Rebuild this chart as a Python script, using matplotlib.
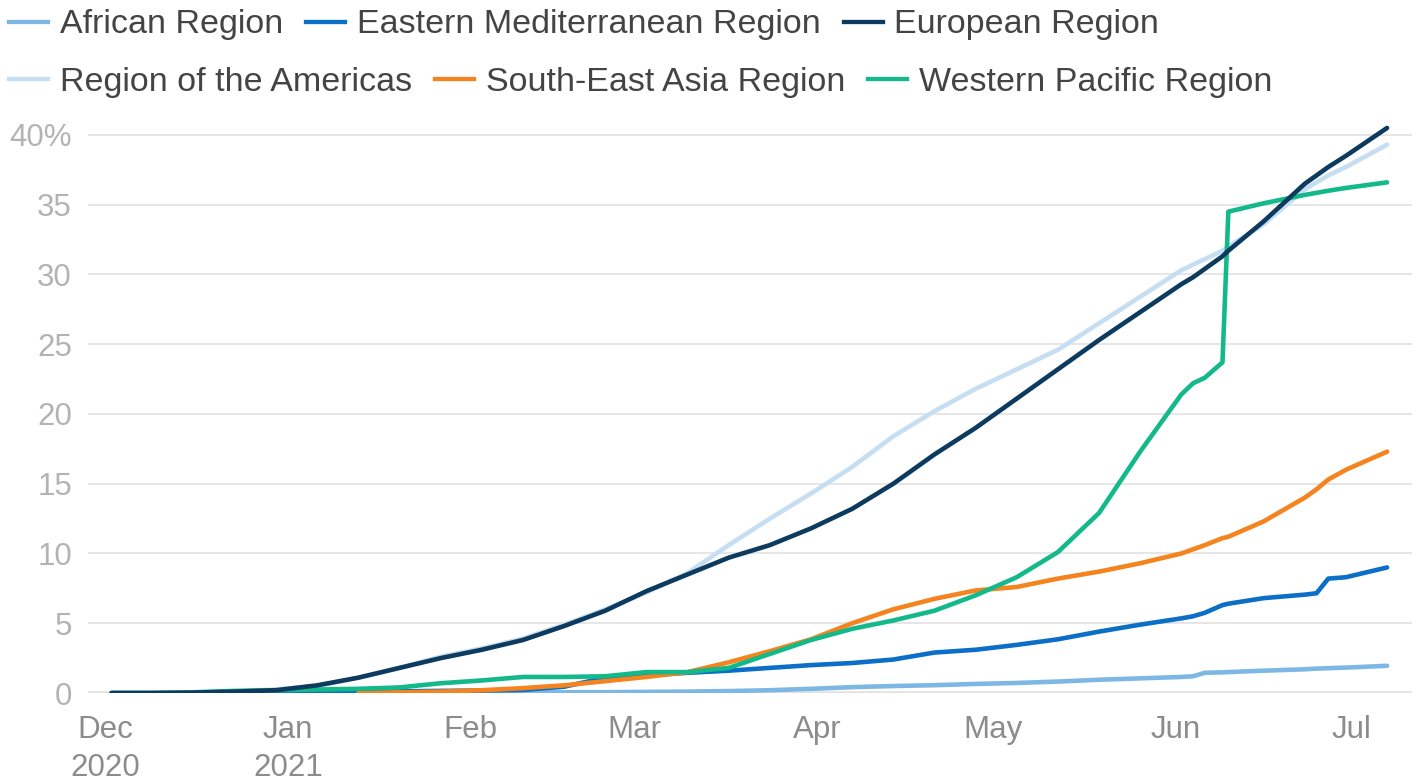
import numpy as np
import pandas as pd
import matplotlib
matplotlib.use("Agg")
import matplotlib.pyplot as plt
from matplotlib.lines import Line2D

plt.rcParams['font.family'] = ['Liberation Sans', 'DejaVu Sans']

# share of population vaccinated (%)
dates = ["2020-12-02", "2020-12-09", "2020-12-16", "2020-12-23", "2020-12-30",
         "2021-01-06", "2021-01-13", "2021-01-20", "2021-01-27", "2021-02-03",
         "2021-02-10", "2021-02-17", "2021-02-24", "2021-03-03", "2021-03-10",
         "2021-03-17", "2021-03-24", "2021-03-31", "2021-04-07", "2021-04-14",
         "2021-04-21", "2021-04-28", "2021-05-05", "2021-05-12", "2021-05-19",
         "2021-05-26", "2021-06-02", "2021-06-04", "2021-06-06", "2021-06-09",
         "2021-06-10", "2021-06-16", "2021-06-23", "2021-06-25", "2021-06-27",
         "2021-06-30", "2021-07-07"]
nan = np.nan
african = [0, 0, 0, 0, 0, 0.01, 0.02, 0.02, 0.03, 0.03, 0.04, 0.05, 0.06, 0.08, 0.1,
           0.14, 0.2, 0.3, 0.42, 0.5, 0.56, 0.65, 0.72, 0.82, 0.95, 1.05, 1.15, 1.2,
           1.45, 1.48, 1.5, 1.6, 1.7, 1.75, 1.78, 1.82, 1.95]
eastern_med = [nan, nan, nan, 0.0, 0.02, 0.05, 0.08, 0.12, 0.15, 0.18, 0.22, 0.45, 1.1,
               1.25, 1.45, 1.6, 1.8, 2.0, 2.15, 2.4, 2.9, 3.1, 3.45, 3.85, 4.4, 4.9,
               5.35, 5.5, 5.75, 6.3, 6.4, 6.8, 7.05, 7.15, 8.2, 8.3, 9.0]
european = [0, 0, 0.03, 0.1, 0.2, 0.55, 1.1, 1.8, 2.5, 3.1, 3.8, 4.8, 5.9, 7.3, 8.5,
            9.7, 10.6, 11.8, 13.2, 15.0, 17.1, 19.0, 21.1, 23.2, 25.3, 27.3, 29.3,
            29.8, 30.4, 31.3, 31.7, 33.8, 36.5, 37.1, 37.7, 38.5, 40.5]
americas = [0, 0, 0.05, 0.12, 0.25, 0.5, 1.1, 1.8, 2.6, 3.2, 3.9, 4.9, 6.0, 7.2, 8.6,
            10.6, 12.5, 14.3, 16.2, 18.4, 20.2, 21.8, 23.2, 24.6, 26.5, 28.4, 30.3,
            30.7, 31.1, 31.7, 32.0, 33.6, 36.1, 36.6, 37.1, 37.7, 39.3]
se_asia = [nan, nan, nan, nan, nan, nan, 0.0, 0.05, 0.1, 0.2, 0.35, 0.55, 0.85, 1.15,
           1.5, 2.2, 3.0, 3.85, 5.0, 6.0, 6.75, 7.35, 7.6, 8.2, 8.7, 9.3, 10.0, 10.3,
           10.6, 11.1, 11.2, 12.3, 14.0, 14.6, 15.3, 16.0, 17.3]
western_pacific = [0, 0, 0.05, 0.15, 0.2, 0.25, 0.3, 0.4, 0.7, 0.9, 1.15, 1.15, 1.2,
                   1.5, 1.5, 1.8, 2.8, 3.8, 4.6, 5.2, 5.9, 7.0, 8.3, 10.1, 12.9, 17.3,
                   21.4, 22.2, 22.6, 23.7, 34.5, 35.1, 35.7, 35.85, 36.0, 36.2, 36.6]

names = ["African Region", "Eastern Mediterranean Region", "European Region",
         "Region of the Americas", "South-East Asia Region", "Western Pacific Region"]
colors = ["#7db8e5", "#0b6fc8", "#0c3b5f", "#c6def2", "#f5841f", "#13b98a"]
series = [african, eastern_med, european, americas, se_asia, western_pacific]
draw_order = [3, 0, 1, 4, 5, 2]

month_ticks = ["2020-12-01", "2021-01-01", "2021-02-01", "2021-03-01", "2021-04-01",
               "2021-05-01", "2021-06-01", "2021-07-01"]
month_labels = ["Dec\n2020", "Jan\n2021", "Feb", "Mar", "Apr", "May", "Jun", "Jul"]
y_ticks = [0, 5, 10, 15, 20, 25, 30, 35, 40]
y_labels = ["0", "5", "10", "15", "20", "25", "30", "35", "40%"]

x = pd.to_datetime(dates)

fig = plt.figure(figsize=(14.24, 7.82), dpi=100)
ax = fig.add_axes([0.0618, 0.1138, 0.9298, 0.7315])

for i in draw_order:
    ax.plot(x, series[i], color=colors[i], lw=3.3, solid_capstyle="round",
            solid_joinstyle="round", zorder=3 + draw_order.index(i))

ax.set_xlim(pd.Timestamp("2020-11-28"), pd.Timestamp("2021-07-11 06:00"))
ax.set_ylim(0, 41)
ax.set_yticks(y_ticks)
ax.set_yticklabels(y_labels)
ax.set_xticks(pd.to_datetime(month_ticks))
ax.set_xticklabels(month_labels, linespacing=1.35)

for s in ax.spines.values():
    s.set_visible(False)
ax.grid(axis="y", color="#e6e6e6", lw=1.4, zorder=0)
ax.axhline(0, color="#333333", lw=1.6, zorder=1)
ax.tick_params(axis="y", length=0, pad=11.5, labelsize=22.5, labelcolor="#b3b3b3")
ax.tick_params(axis="x", length=0, pad=15.5, labelsize=22.5, labelcolor="#8c8c8c")

handles = [Line2D([], [], color=c, lw=3.1) for c in colors]
leg_kw = dict(ncol=3, loc="center left", frameon=False, fontsize=24.5,
              handlelength=1.15, handletextpad=0.34, columnspacing=0.68,
              borderpad=0, borderaxespad=0, labelcolor="#444444")
fig.legend(handles[:3], names[:3], bbox_to_anchor=(9 / 1424, 1 - 25 / 782), **leg_kw)
fig.legend(handles[3:], names[3:], bbox_to_anchor=(9 / 1424, 1 - 82 / 782), **leg_kw)

plt.savefig("out.png", dpi=100)
